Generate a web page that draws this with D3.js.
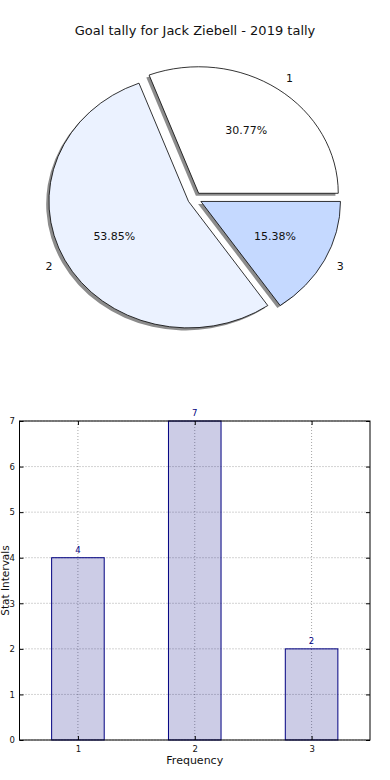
<!DOCTYPE html>
<html lang="en">
<head>
    <meta charset="UTF-8"/>
    <title>Goal tally</title>
    <script src="https://d3js.org/d3.v7.min.js"></script>
    <style>
        body { margin: 0; background: #fff; }
        svg { display: block; font-family: "DejaVu Sans", sans-serif; }
    </style>
</head>
<body>
    <script>
        // data
        var categories = ["1", "2", "3"];
        var goals = [4, 7, 2];
        var sliceColors = ["#ffffff", "#ebf2ff", "#c5d9ff"];
        var yTicks = [0, 1, 2, 3, 4, 5, 6, 7];

        var w = 390;
        var h = 780;

        var svg = d3.select("body")
            .append("svg")
            .attr("width", w)
            .attr("height", h);

        // Title
        svg.append("text")
            .attr("x", 195)
            .attr("y", 30)
            .attr("text-anchor", "middle")
            .attr("dominant-baseline", "central")
            .attr("font-size", "13px")
            .attr("fill", "#111")
            .text("Goal tally for Jack Ziebell - 2019 tally");

        // ---------- PIE ----------
        var cx = 194.7, cy = 198.5;
        var rx = 139.6, ry = 126.5;
        var explode = 0.05;
        var total = d3.sum(goals);

        // matplotlib style: start at 3 o'clock, counterclockwise
        var pie = d3.pie()
            .sort(null)
            .startAngle(Math.PI / 2)
            .endAngle(Math.PI / 2 - 2 * Math.PI);

        var arcs = pie(goals);
        var arc = d3.arc().innerRadius(0).outerRadius(1);

        // d3 angle -> matplotlib angle (ccw from x axis)
        function mid(d) {
            var a = (d.startAngle + d.endAngle) / 2;
            return Math.PI / 2 - a;
        }
        function center(d) {
            var t = mid(d);
            return [cx + explode * Math.cos(t) * rx, cy - explode * Math.sin(t) * ry];
        }

        var pieG = svg.append("g");

        // shadows go under all wedges
        pieG.selectAll("path.shadow")
            .data(arcs)
            .enter()
            .append("path")
            .attr("class", "shadow")
            .attr("d", arc)
            .attr("transform", function(d) {
                var c = center(d);
                return "translate(" + (c[0] - 0.02 * rx) + "," + (c[1] + 0.02 * ry) + ") scale(" + rx + "," + ry + ")";
            })
            .attr("fill", "#000")
            .attr("fill-opacity", 0.45);

        pieG.selectAll("path.wedge")
            .data(arcs)
            .enter()
            .append("path")
            .attr("class", "wedge")
            .attr("d", arc)
            .attr("transform", function(d) {
                var c = center(d);
                return "translate(" + c[0] + "," + c[1] + ") scale(" + rx + "," + ry + ")";
            })
            .attr("fill", function(d, i) { return sliceColors[i]; })
            .attr("stroke", "#000")
            .attr("stroke-width", 0.8)
            .attr("vector-effect", "non-scaling-stroke");

        // category labels
        pieG.selectAll("text.lab")
            .data(arcs)
            .enter()
            .append("text")
            .attr("class", "lab")
            .attr("x", function(d) { return center(d)[0] + 1.1 * Math.cos(mid(d)) * rx; })
            .attr("y", function(d) { return center(d)[1] - 1.1 * Math.sin(mid(d)) * ry; })
            .attr("text-anchor", function(d) { return Math.cos(mid(d)) > 0 ? "start" : "end"; })
            .attr("dominant-baseline", "central")
            .attr("font-size", "11px")
            .attr("fill", "#111")
            .text(function(d, i) { return categories[i]; });

        // percentages
        pieG.selectAll("text.pct")
            .data(arcs)
            .enter()
            .append("text")
            .attr("class", "pct")
            .attr("x", function(d) { return center(d)[0] + 0.6 * Math.cos(mid(d)) * rx; })
            .attr("y", function(d) { return center(d)[1] - 0.6 * Math.sin(mid(d)) * ry; })
            .attr("text-anchor", "middle")
            .attr("dominant-baseline", "central")
            .attr("font-size", "11px")
            .attr("fill", "#111")
            .text(function(d) { return (d.value / total * 100).toFixed(2) + "%"; });

        // ---------- BAR ----------
        var plotL = 19.5, plotR = 370, plotT = 421, plotB = 740;

        var xScale = d3.scaleLinear()
            .domain([0.5, 3.5])
            .range([plotL, plotR]);

        var yScale = d3.scaleLinear()
            .domain([0, 7])
            .range([plotB, plotT]);

        var barW = 0.45;
        var bar = svg.append("g");

        // grid
        bar.selectAll("line.hgrid")
            .data(yTicks)
            .enter()
            .append("line")
            .attr("x1", plotL).attr("x2", plotR)
            .attr("y1", function(d) { return yScale(d); })
            .attr("y2", function(d) { return yScale(d); })
            .attr("stroke", "#000")
            .attr("stroke-opacity", 0.35)
            .attr("stroke-dasharray", "1,2");

        bar.selectAll("line.vgrid")
            .data(categories)
            .enter()
            .append("line")
            .attr("x1", function(d) { return xScale(+d); })
            .attr("x2", function(d) { return xScale(+d); })
            .attr("y1", plotT).attr("y2", plotB)
            .attr("stroke", "#000")
            .attr("stroke-opacity", 0.35)
            .attr("stroke-dasharray", "1,2");

        // bars
        bar.selectAll("rect.bar")
            .data(goals)
            .enter()
            .append("rect")
            .attr("class", "bar")
            .attr("x", function(d, i) { return xScale(+categories[i] - barW / 2); })
            .attr("y", function(d) { return yScale(d); })
            .attr("width", xScale(barW) - xScale(0))
            .attr("height", function(d) { return yScale(0) - yScale(d); })
            .attr("fill", "#000080")
            .attr("fill-opacity", 0.2)
            .attr("stroke", "#000080")
            .attr("stroke-width", 1);

        // value labels
        bar.selectAll("text.val")
            .data(goals)
            .enter()
            .append("text")
            .attr("class", "val")
            .attr("x", function(d, i) { return xScale(+categories[i]); })
            .attr("y", function(d) { return yScale(d) - 5; })
            .attr("text-anchor", "middle")
            .attr("font-size", "8.5px")
            .attr("fill", "#000080")
            .text(function(d) { return d; });

        // axes (ticks inside, on all four sides)
        var yAxis = bar.append("g")
            .attr("transform", "translate(" + plotL + ",0)")
            .call(d3.axisLeft(yScale).tickValues(yTicks).tickSize(-4).tickPadding(4.5).tickFormat(d3.format("d")));
        var yAxisR = bar.append("g")
            .attr("transform", "translate(" + plotR + ",0)")
            .call(d3.axisRight(yScale).tickValues(yTicks).tickSize(-4).tickFormat(""));
        var xAxis = bar.append("g")
            .attr("transform", "translate(0," + plotB + ")")
            .call(d3.axisBottom(xScale).tickValues([1, 2, 3]).tickSize(-4).tickPadding(6).tickFormat(d3.format("d")));
        var xAxisT = bar.append("g")
            .attr("transform", "translate(0," + plotT + ")")
            .call(d3.axisTop(xScale).tickValues([1, 2, 3]).tickSize(-4).tickFormat(""));

        [yAxis, yAxisR, xAxis, xAxisT].forEach(function(a) {
            a.select(".domain").remove();
            a.selectAll("text").attr("font-size", "8.5px").attr("fill", "#111").attr("font-family", "DejaVu Sans, sans-serif");
            a.selectAll("line").attr("stroke", "#000");
        });

        bar.append("rect")
            .attr("x", plotL).attr("y", plotT)
            .attr("width", plotR - plotL).attr("height", plotB - plotT)
            .attr("fill", "none")
            .attr("stroke", "#000")
            .attr("stroke-width", 1);

        // axis labels
        svg.append("text")
            .attr("x", (plotL + plotR) / 2)
            .attr("y", 760)
            .attr("text-anchor", "middle")
            .attr("dominant-baseline", "central")
            .attr("font-size", "11px")
            .attr("fill", "#111")
            .text("Frequency");

        svg.append("text")
            .attr("transform", "translate(5," + ((plotT + plotB) / 2) + ") rotate(-90)")
            .attr("text-anchor", "middle")
            .attr("dominant-baseline", "central")
            .attr("font-size", "10.5px")
            .attr("fill", "#111")
            .text("Stat Intervals");
    </script>
</body>
</html>
